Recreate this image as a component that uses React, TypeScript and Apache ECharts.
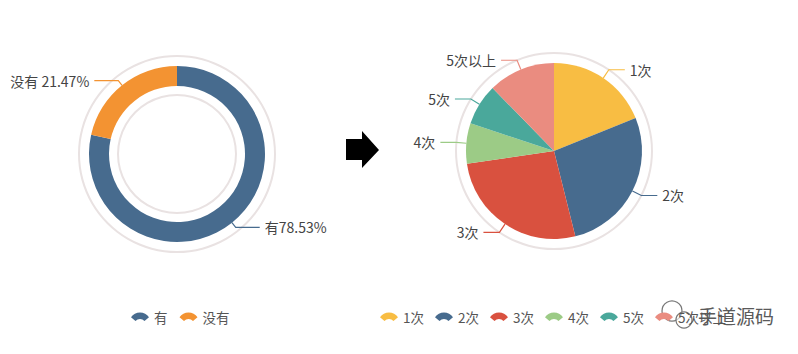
import React, { useEffect, useRef } from "react";
import * as echarts from "echarts";

const donutNames = ["有", "没有"];
const donutValues = [78.53, 21.47];
const donutColors = ["#476b8e", "#f39332"];

const pieNames = ["1次", "2次", "3次", "4次", "5次", "5次以上"];
const pieValues = [18.9, 27.2, 26.6, 7.4, 7.6, 12.3];
const pieColors = ["#f8bd43", "#476b8e", "#d9513f", "#9ccb86", "#4aa89b", "#ea8c80"];

const watermark = "手道源码";

const FONT = '"Noto Sans CJK SC", "Noto Sans", sans-serif';
const ICON = "path://M0,6 A12,12 0 0 1 20,6 L15,10 A7,7 0 0 0 5,10 Z";

export default function App() {
  const ref = useRef<HTMLDivElement>(null);
  useEffect(() => {
    if (!ref.current) return;
    const chart = echarts.init(ref.current, null, { renderer: "svg" });
    const ringSeries = (center: number[], r: number[]) => ({
      type: "pie",
      silent: true,
      center,
      radius: r,
      label: { show: false },
      labelLine: { show: false },
      itemStyle: { color: "#e9e2e2" },
      data: [{ name: "__ring", value: 1 }],
      z: 1,
    });
    chart.setOption({
      animation: false,
      backgroundColor: "#ffffff",
      textStyle: { fontFamily: FONT },
      legend: [
        {
          data: donutNames,
          left: 126,
          top: 305,
          icon: ICON,
          itemWidth: 18,
          itemHeight: 9,
          itemGap: 12,
          textStyle: { color: "#555", fontSize: 13.5, fontFamily: FONT },
        },
        {
          data: pieNames,
          left: 375,
          top: 305,
          icon: ICON,
          itemWidth: 18,
          itemHeight: 9,
          itemGap: 11,
          textStyle: { color: "#555", fontSize: 13.5, fontFamily: FONT },
        },
      ],
      graphic: [
        {
          type: "polygon",
          shape: {
            points: [
              [346, 139],
              [362, 139],
              [362, 131],
              [379, 150],
              [362, 168],
              [362, 160],
              [346, 160],
            ],
          },
          style: { fill: "#000" },
        },
        {
          type: "circle",
          shape: { cx: 672, cy: 311, r: 10 },
          style: { fill: "rgba(255,255,255,0.6)", stroke: "#777", lineWidth: 1.2 },
        },
        {
          type: "circle",
          shape: { cx: 684, cy: 320, r: 8 },
          style: { fill: "rgba(255,255,255,0.6)", stroke: "#777", lineWidth: 1.2 },
        },
        {
          type: "text",
          x: 698,
          y: 306,
          style: {
            text: watermark,
            fill: "#5a5a5a",
            font: `19px ${FONT}`,
            stroke: "#fff",
            lineWidth: 2,
          },
        },
      ],
      series: [
        ringSeries([177, 154], [97, 99]),
        ringSeries([177, 154], [58, 60]),
        {
          type: "pie",
          center: [177, 154],
          radius: [68, 88],
          startAngle: 90,
          clockwise: true,
          z: 2,
          color: donutColors,
          label: {
            color: "#444",
            fontSize: 14,
            fontFamily: FONT,
            formatter: (p: any) => p.name + (p.dataIndex === 1 ? " " : "") + p.value + "%",
          },
          labelLine: { length: 6, length2: 24, lineStyle: { width: 1.2 } },
          data: donutNames.map((n, i) => ({ name: n, value: donutValues[i] })),
        },
        ringSeries([554, 151], [97, 99]),
        {
          type: "pie",
          center: [554, 151],
          radius: [0, 88],
          startAngle: 90,
          clockwise: true,
          z: 2,
          color: pieColors,
          label: { color: "#444", fontSize: 14, fontFamily: FONT, formatter: "{b}" },
          labelLine: { length: 10, length2: 16, lineStyle: { width: 1.2 } },
          data: pieNames.map((n, i) => ({ name: n, value: pieValues[i] })),
        },
      ],
    });
    return () => chart.dispose();
  }, []);
  return (
    <div
      ref={ref}
      style={{ position: "fixed", left: 0, top: 0, width: 798, height: 354 }}
    />
  );
}
